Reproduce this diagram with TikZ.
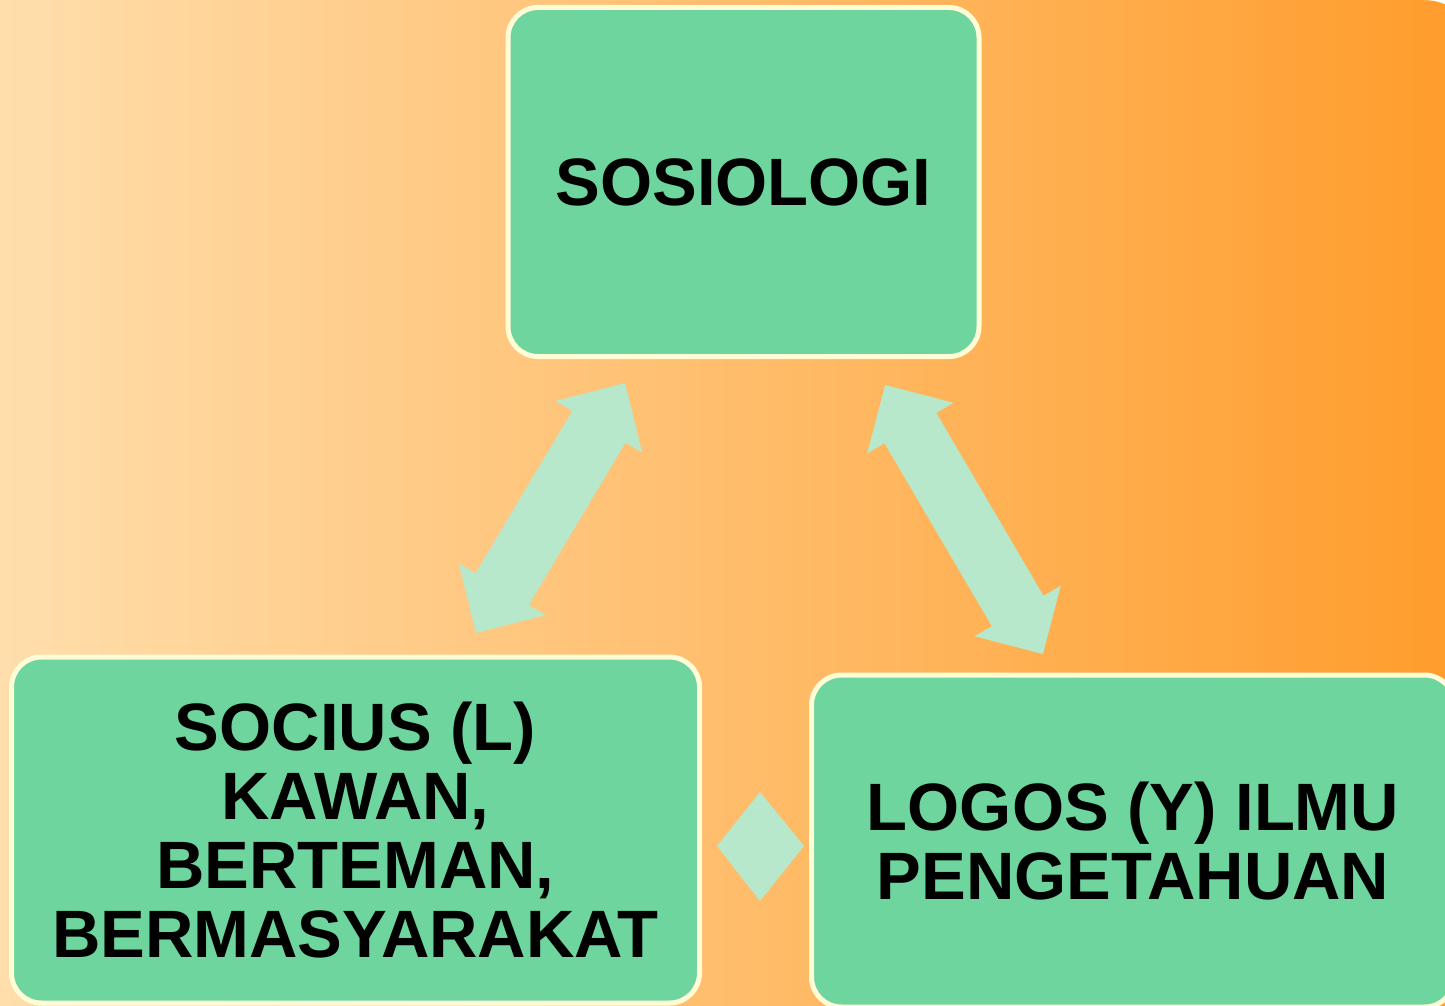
\documentclass[tikz,border=0pt]{standalone}
\usepackage{fontspec}
\setmainfont{Liberation Sans}
\definecolor{bgleft}{RGB}{255,222,172}
\definecolor{bgright}{RGB}{255,157,45}
\definecolor{boxgreen}{RGB}{109,213,157}
\definecolor{boxedge}{RGB}{255,252,214}
\definecolor{arrowgreen}{RGB}{184,232,204}
\tikzset{
  card/.style={draw=boxedge, line width=5pt, fill=boxgreen, rounded corners=30pt,
    align=center, font=\fontsize{67}{69}\selectfont\bfseries, text=black, inner sep=0pt},
  dblarrow/.style={fill=arrowgreen, draw=none}
}
\newcommand{\dblarrowshape}[4]{% half length, shaft half width, head half width, head length
  \fill[dblarrow] (#1,0) -- (#1-#4,#3) -- (#1-#4,#2) -- (-#1+#4,#2) -- (-#1+#4,#3) -- (-#1,0)
    -- (-#1+#4,-#3) -- (-#1+#4,-#2) -- (#1-#4,-#2) -- (#1-#4,-#3) -- cycle;}
\begin{document}
\begin{tikzpicture}[x=1pt,y=-1pt]
\useasboundingbox (0,0) rectangle (1445,1006);
\clip (0,0) rectangle (1445,1006);
\fill[left color=bgleft, right color=bgright] (0,0) rectangle (1445,1006);
\fill[white] (1424,0) .. controls (1434,0.5) .. (1445,4) -- (1445,0) -- cycle;

\node[card, minimum width=471pt, minimum height=349pt] (top) at (743.5,182) {SOSIOLOGI};
\node[card, minimum width=688pt, minimum height=346pt] (left) at (355.5,830)
  {SOCIUS (L)\\KAWAN,\\BERTEMAN,\\BERMASYARAKAT};
\node[card, minimum width=643pt, minimum height=332pt] (right) at (1133,841)
  {LOGOS (Y) ILMU\\PENGETAHUAN};

\begin{scope}[shift={(550.5,508)}, rotate=59.2]
  \dblarrowshape{145.5}{31}{50.5}{51}
\end{scope}
\begin{scope}[shift={(964,519.5)}, rotate=120.4]
  \dblarrowshape{156}{30}{50}{50}
\end{scope}

\fill[arrowgreen] (760,792) -- (804,846) -- (760,901) -- (717,846) -- cycle;
\end{tikzpicture}
\end{document}
